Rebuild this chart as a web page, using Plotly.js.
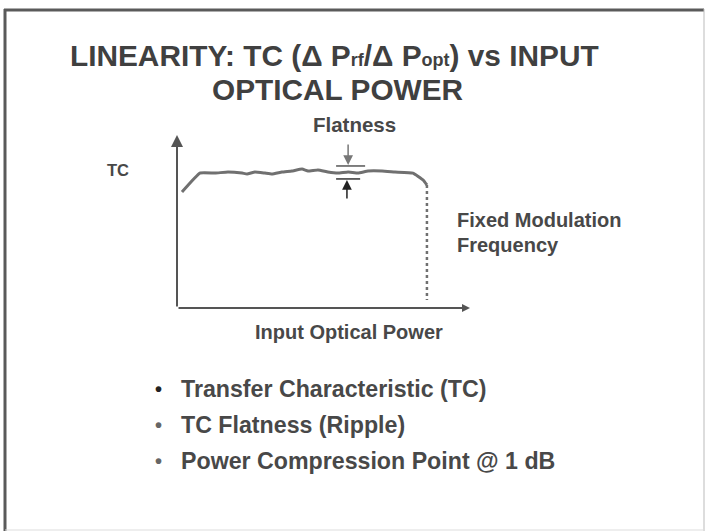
<!DOCTYPE html>
<html>
<head>
<meta charset="utf-8">
<script src="https://cdn.plot.ly/plotly-3.0.1.min.js"></script>
<style>html,body{margin:0;padding:0;background:#fff;}#chart{width:707px;height:532px;}</style>
</head>
<body>
<div id="chart"></div>
<script>
// Data: transfer characteristic vs input optical power (arbitrary units)
const inputPower = [1.7, 7.8, 13.0, 17.4, 22.2, 23.9, 26.6, 30.0, 32.4, 35.8, 39.2, 42.7, 44.7, 48.1, 51.5, 54.9, 58.4, 61.8, 65.2, 70.0, 74.4, 80.5, 84.0, 85.3];
const tcValues   = [67.1, 78.0, 78.0, 78.6, 78.0, 77.5, 78.6, 78.0, 77.5, 78.6, 79.2, 80.3, 79.2, 79.8, 78.6, 78.0, 78.6, 78.0, 79.2, 79.2, 78.6, 78.0, 74.0, 71.1];
const limitX = [85.3, 85.3];
const limitY = [71.1, 4.6];
const flatnessTop = 82.1;
const flatnessBottom = 74.6;
const flatnessTopX = [54.3, 64.2];
const flatnessBottomX = [54.3, 62.5];
const bullets = ["Transfer Characteristic (TC)", "TC Flatness (Ripple)", "Power Compression Point @ 1 dB"];

// plot area in pixels: x 177..470, y 135..308
const L = 177, R = 470, T = 135, B = 308;
const px = x => (x - L) / (R - L);
const py = y => (B - y) / (B - T);

const FONT = "Liberation Sans, Arial, Helvetica, sans-serif";
const TXT = "#484848";

const traces = [
  {x: inputPower, y: tcValues, mode: "lines", line: {color: "#707070", width: 3, shape: "spline", smoothing: 0.3}, hoverinfo: "skip"},
  {x: limitX, y: limitY, mode: "lines", line: {color: "#707070", width: 2.5, dash: "dot"}, hoverinfo: "skip"}
];

const ann = [];
function txt(text, x, y, size, anchor, color) {
  ann.push({text: text, xref: "paper", yref: "paper", x: px(x), y: py(y), xanchor: anchor || "center", yanchor: "middle",
    showarrow: false, font: {family: FONT, size: size, color: color || TXT}});
}
function arrow(x, y, ax, ay, head, size, w, col) {
  ann.push({text: "", xref: "x", yref: "y", axref: "x", ayref: "y", x: x, y: y, ax: ax, ay: ay,
    showarrow: true, arrowhead: head, arrowsize: size, arrowwidth: w, arrowcolor: col, standoff: 0, startstandoff: 0});
}
// axes with arrows
arrow(0, 100, 0, 0, 2, 1.2, 2, "#555");
arrow(100, 0, 0, 0, 2, 0.8, 2, "#555");
// flatness arrows
arrow(58.4, flatnessTop + 0.6, 58.4, 95.4, 2, 1.3, 1.5, "#777");
arrow(58.0, flatnessBottom - 0.6, 58.0, 62.4, 2, 1.3, 1.5, "#222");

const sub = s => '<span style="font-size:18px">' + s + '</span>';
txt("<b>LINEARITY: TC (Δ P" + sub("rf") + "/Δ P" + sub("opt") + ") vs INPUT</b>", 334, 55, 29.8, "center", "#404040");
txt("<b>OPTICAL POWER</b>", 337, 89, 29.8, "center", "#404040");
txt("<b>Flatness</b>", 354, 125, 20.5);
txt("<b>TC</b>", 118, 170, 16.5);
txt("<b>Fixed Modulation</b>", 455, 220, 20, "left");
txt("<b>Frequency</b>", 455, 245, 20, "left");
txt("<b>Input Optical Power</b>", 349, 332, 20);
const by = [389, 425, 461];
bullets.forEach((b, i) => {
  txt("<b>•</b>", 158, by[i], 20, "center", i === 0 ? "#222" : "#666");
  txt("<b>" + b + "</b>", 179, by[i], 23.2, "left");
});

const shapes = [
  {type: "line", xref: "x", yref: "y", x0: flatnessTopX[0], x1: flatnessTopX[1], y0: flatnessTop, y1: flatnessTop, line: {color: "#555", width: 1.5}},
  {type: "line", xref: "x", yref: "y", x0: flatnessBottomX[0], x1: flatnessBottomX[1], y0: flatnessBottom, y1: flatnessBottom, line: {color: "#333", width: 1.5}},
  // slide frame
  {type: "line", xref: "paper", yref: "paper", x0: px(4), x1: px(704), y0: py(10), y1: py(10), line: {color: "#5a5a5a", width: 3}},
  {type: "line", xref: "paper", yref: "paper", x0: px(5), x1: px(5), y0: py(9), y1: py(531), line: {color: "#5a5a5a", width: 3}},
  {type: "line", xref: "paper", yref: "paper", x0: px(704), x1: px(704), y0: py(9), y1: py(531), line: {color: "#bbb", width: 1}},
  {type: "line", xref: "paper", yref: "paper", x0: px(5), x1: px(704), y0: py(530), y1: py(530), line: {color: "#ddd", width: 1}}
];

const layout = {
  width: 707, height: 532,
  margin: {l: L, r: 707 - R, t: T, b: 532 - B, pad: 0},
  paper_bgcolor: "#fff", plot_bgcolor: "#fff",
  showlegend: false,
  xaxis: {range: [0, 100], showgrid: false, zeroline: false, showticklabels: false, showline: false, ticks: "", fixedrange: true},
  yaxis: {range: [0, 100], showgrid: false, zeroline: false, showticklabels: false, showline: false, ticks: "", fixedrange: true},
  annotations: ann,
  shapes: shapes
};
Plotly.newPlot("chart", traces, layout, {staticPlot: true, displayModeBar: false});
</script>
</body>
</html>
